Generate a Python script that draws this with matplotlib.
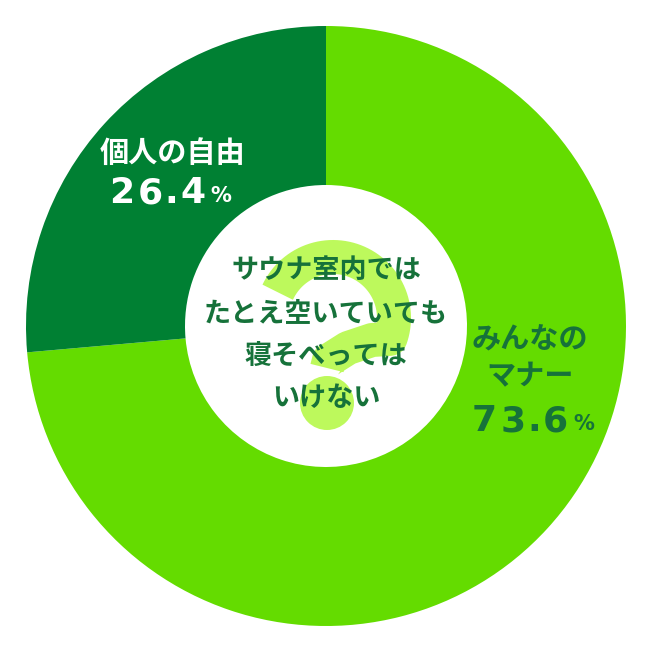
import numpy as np
import matplotlib
matplotlib.use("Agg")
import matplotlib.pyplot as plt
from matplotlib.patches import Circle

# data
categories = ["みんなの\nマナー", "個人の自由"]
values = [73.6, 26.4]
pct_labels = ["73.6", "26.4"]
center_lines = ["サウナ室内では", "たとえ空いていても", "寝そべっては", "いけない"]

light = "#64dc00"
dark = "#008033"
text_dark = "#16723a"
qcolor = "#bdf95c"

W = 652
fig = plt.figure(figsize=(6.52, 6.52), dpi=100)
ax = fig.add_axes([0, 0, 1, 1])


def Y(p):
    return W - p


cx, cy = 326, Y(326)
R, r_in = 300, 141
ax.pie(values, colors=[light, dark], startangle=90, counterclock=False,
       center=(cx, cy), radius=R, wedgeprops=dict(width=R - r_in, linewidth=0),
       frame=True)
ax.set_xlim(0, W)
ax.set_ylim(0, W)
ax.set_aspect("equal")
ax.axis("off")

# decorative question mark behind the centre text
px_per_pt = 100 / 72
qc_x, qc_y, qr = 333, 318, 61
th = np.radians(np.linspace(155, -20, 60))
qx = list(qc_x + qr * np.cos(th))
qy = list(qc_y - qr * np.sin(th))
qx += [372, 348, 329, 327]
qy += [340, 348, 360, 368]
ax.plot(qx, [Y(v) for v in qy], color=qcolor, lw=34 / px_per_pt,
        solid_capstyle="butt", solid_joinstyle="round", zorder=3)
ax.add_patch(Circle((327, Y(403)), 27, facecolor=qcolor, edgecolor="none", zorder=3))

jp = ["Noto Sans CJK JP", "DejaVu Sans"]

# centre text
ys = [270, 313, 356, 398]
for line, yy in zip(center_lines, ys):
    ax.text(326, Y(yy), line, ha="center", va="center", fontsize=19.5,
            fontweight="bold", family=jp, color=text_dark, zorder=5)


def tracked(x0, yc, s, color, size=26):
    """place a percentage string with wide letter spacing"""
    x = x0
    for ch in s:
        w = 7 if ch == "." else 23
        ax.text(x + w / 2, Y(yc), ch, ha="center", va="center", fontsize=size,
                fontweight="bold", family="DejaVu Sans", color=color, zorder=5)
        x += w + 6
    ax.text(x, Y(yc + 3), "%", ha="left", va="center", fontsize=15,
            fontweight="bold", family="DejaVu Sans", color=color, zorder=5)


# left label (dark segment)
ax.text(173, Y(153), categories[1], ha="center", va="center", fontsize=21,
        fontweight="bold", family=jp, color="white", zorder=5)
tracked(110, 193, pct_labels[1], "white")

# right label (light segment)
ax.text(530, Y(358), categories[0], ha="center", va="center", fontsize=21,
        fontweight="bold", family=jp, color=text_dark, zorder=5,
        linespacing=1.25)
tracked(473, 421, pct_labels[0], text_dark)

fig.savefig("out.png", dpi=100, facecolor="white")
